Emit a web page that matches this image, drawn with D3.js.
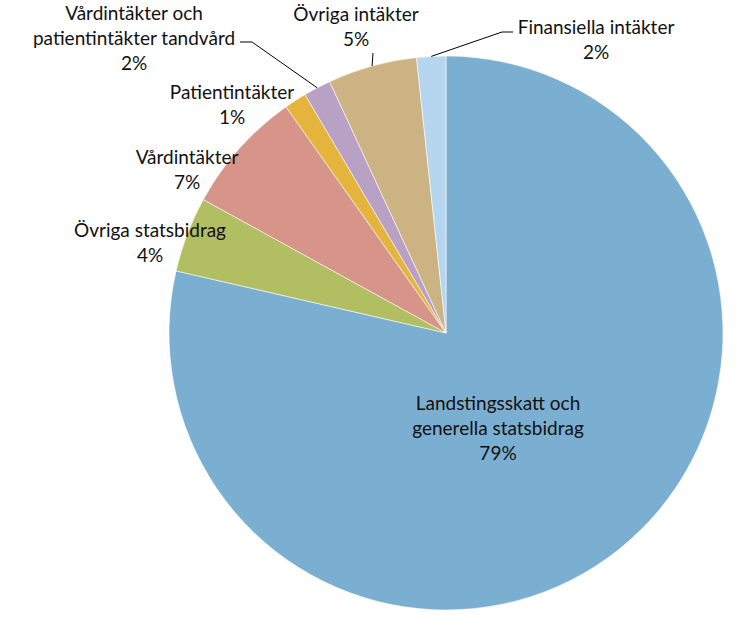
<!DOCTYPE html>
<html><head><meta charset="utf-8">
<script src="https://cdn.jsdelivr.net/npm/d3@7"></script>
<style>body{margin:0;background:#fff}svg{display:block}text{font-family:Lato,"Open Sans",sans-serif;font-size:19px;fill:#111}</style>
</head><body><svg id="c" width="755" height="626"></svg>
<script>
const categories = ["Landstingsskatt och generella statsbidrag","Övriga statsbidrag","Vårdintäkter","Patientintäkter","Vårdintäkter och patientintäkter tandvård","Övriga intäkter","Finansiella intäkter"];
const values = [78.6, 4.4, 7.2, 1.3, 1.6, 5.2, 1.7];
const percentLabels = ["79%","4%","7%","1%","2%","5%","2%"];
const colors = ["#7BAFD2","#B1BE62","#D79488","#E5B43D","#B9A1C5","#CBB384","#B5D6EE"];
// label layout (separate from data)
const labelLines = [["Landstingsskatt och","generella statsbidrag"],["Övriga statsbidrag"],["Vårdintäkter"],["Patientintäkter"],["Vårdintäkter och","patientintäkter tandvård"],["Övriga intäkter"],["Finansiella intäkter"]];
const labelPos = [[498,403],[150,230],[187,157],[232,92],[134,13],[356,14],[596,27]];
const leaders = [null,null,null,null,{elbow:[252,42],end:[240,42]},{elbow:[373,53],end:[373,53]},{elbow:[502,32],end:[513,32]}];

const svg = d3.select("#c");
const cx = 446, cy = 333, R = 277;
const g = svg.append("g").attr("transform",`translate(${cx},${cy})`);
const pie = d3.pie().sort(null).value(d=>d);
const arcs = pie(values);
const arc = d3.arc().innerRadius(0).outerRadius(R);
g.selectAll("path").data(arcs).join("path")
  .attr("d",arc).attr("fill",(d,i)=>colors[i])
  .attr("stroke","#fff").attr("stroke-width",0.8).attr("stroke-opacity",0.7);

// leader lines
arcs.forEach((d,i)=>{
  const L = leaders[i]; if(!L) return;
  const a = (d.startAngle+d.endAngle)/2;
  const p = [cx+R*Math.sin(a), cy-R*Math.cos(a)];
  svg.append("polyline").attr("points",[p,L.elbow,L.end].map(q=>q.join(",")).join(" "))
    .attr("fill","none").attr("stroke","#000").attr("stroke-width",1);
});

const lh = 25;
labelLines.forEach((lines,i)=>{
  const t = svg.append("text").attr("text-anchor","middle");
  const all = lines.concat([percentLabels[i]]);
  all.forEach((s,k)=>{
    t.append("tspan").attr("x",labelPos[i][0]).attr("y",labelPos[i][1]+k*lh).attr("dy","0.35em").text(s);
  });
});
</script></body></html>
